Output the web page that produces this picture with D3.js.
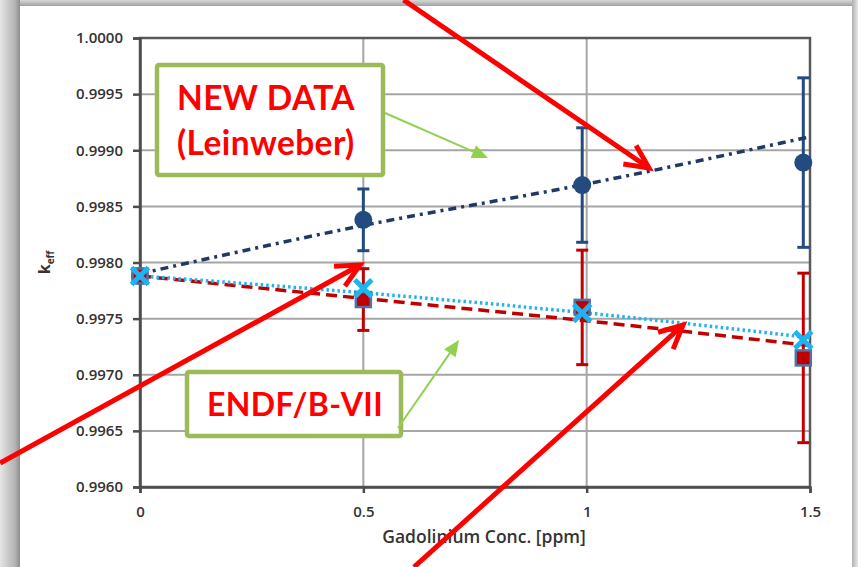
<!DOCTYPE html>
<html>
<head>
<meta charset="utf-8">
<script src="https://cdn.jsdelivr.net/npm/d3@7"></script>
<style>
  html, body { margin: 0; padding: 0; background: #fff; }
  svg { display: block; }
</style>
</head>
<body>
<svg id="chart" width="858" height="567"></svg>
<script>
// Gadolinium concentration in ppm at each measured point
const concentration = [0, 0.5, 0.99, 1.485];
// k_eff with the new Gd cross sections (Leinweber)
const keffNewData = [0.99788, 0.99838, 0.99869, 0.99889];
// k_eff with ENDF/B-VII cross sections
const keffEndf = [0.99788, 0.99767, 0.99760, 0.99715];
// second ENDF/B-VII calculation
const keffEndfCalc = [0.99788, 0.99777, 0.99755, 0.99731];
// one-sigma uncertainty of each point
const keffSigma = [0, 0.000275, 0.00051, 0.000755];

// trend lines through each series
const trendConc = [0, 0.5, 1, 1.5];
const trendNewData = [0.99790, 0.99833, 0.99870, 0.99912];
const trendEndf = [0.99788, 0.99768, 0.99748, 0.99726];
const trendEndfCalc = [0.99788, 0.99773, 0.99755, 0.99733];

// axis ticks
const xTicks = [0, 0.5, 1, 1.5];
const yTicks = [0.9960, 0.9965, 0.9970, 0.9975, 0.9980, 0.9985, 0.9990, 0.9995, 1.0000];

const svg = d3.select("#chart");
const W = 858, H = 567;

// ---- card background with soft grey edges ----
const defs = svg.append("defs");
const gl = defs.append("linearGradient").attr("id", "edgeL").attr("x1", 0).attr("x2", 1);
gl.append("stop").attr("offset", 0).attr("stop-color", "#e4e4e4");
gl.append("stop").attr("offset", 0.75).attr("stop-color", "#b4b4b4");
gl.append("stop").attr("offset", 1).attr("stop-color", "#8c8c8c");
const gr = defs.append("linearGradient").attr("id", "edgeR").attr("x1", 0).attr("x2", 1);
gr.append("stop").attr("offset", 0).attr("stop-color", "#b0b0b0");
gr.append("stop").attr("offset", 1).attr("stop-color", "#e8e8e8");
const gt = defs.append("linearGradient").attr("id", "edgeT").attr("x1", 0).attr("x2", 0).attr("y1", 0).attr("y2", 1);
gt.append("stop").attr("offset", 0).attr("stop-color", "#d8d8d8");
gt.append("stop").attr("offset", 1).attr("stop-color", "#a0a0a0");

svg.append("rect").attr("x", 0).attr("y", 0).attr("width", W).attr("height", H).attr("fill", "#fff");
svg.append("rect").attr("x", 0).attr("y", 0).attr("width", W).attr("height", 6).attr("fill", "url(#edgeT)");
svg.append("rect").attr("x", 0).attr("y", 0).attr("width", 20).attr("height", H).attr("fill", "url(#edgeL)");
svg.append("rect").attr("x", 852).attr("y", 0).attr("width", 6).attr("height", H).attr("fill", "url(#edgeR)");

// ---- scales ----
const x = d3.scaleLinear().domain([0, 1.5]).range([140, 810]);
const y = d3.scaleLinear().domain([0.9960, 1.0000]).range([487, 38]);

// ---- grid ----
const grid = svg.append("g");
grid.selectAll("line.h").data(yTicks).join("line")
  .attr("x1", x(0)).attr("x2", x(1.5))
  .attr("y1", d => y(d)).attr("y2", d => y(d))
  .attr("stroke", "#a6a6a6").attr("stroke-width", 2);
grid.selectAll("line.v").data(xTicks).join("line")
  .attr("x1", d => x(d)).attr("x2", d => x(d))
  .attr("y1", y(0.996)).attr("y2", y(1.0))
  .attr("stroke", "#a6a6a6").attr("stroke-width", 2);

// plot frame
svg.append("rect")
  .attr("x", x(0)).attr("y", y(1.0))
  .attr("width", x(1.5) - x(0)).attr("height", y(0.996) - y(1.0))
  .attr("fill", "none").attr("stroke", "#595959").attr("stroke-width", 2.5);

// ---- axes ----
const yAxis = d3.axisLeft(y).tickValues(yTicks).tickFormat(d3.format(".4f")).tickSize(7).tickPadding(10);
const gy = svg.append("g").attr("transform", `translate(${x(0)},0)`).call(yAxis);
const xAxis = d3.axisBottom(x).tickValues(xTicks).tickFormat(d => d3.format("")(d)).tickSize(6).tickPadding(13);
const gx = svg.append("g").attr("transform", `translate(0,${y(0.996)})`).call(xAxis);
[gx, gy].forEach(g => {
  g.select(".domain").attr("stroke", "#4d4d4d").attr("stroke-width", 2.5);
  g.selectAll(".tick line").attr("stroke", "#4d4d4d").attr("stroke-width", 2.5);
  g.selectAll(".tick text")
    .attr("fill", "#333").attr("font-family", "'Open Sans', sans-serif")
    .attr("font-weight", 600).attr("font-size", 15);
});

// axis titles
svg.append("text")
  .attr("x", x(0.75) + 9).attr("y", 543)
  .attr("text-anchor", "middle")
  .attr("font-family", "'Open Sans', sans-serif").attr("font-weight", 600)
  .attr("font-size", 17.5).attr("fill", "#333")
  .text("Gadolinium Conc. [ppm]");
const yt = svg.append("text")
  .attr("transform", `translate(50,${y(0.998)}) rotate(-90)`)
  .attr("text-anchor", "middle")
  .attr("font-family", "'Open Sans', sans-serif").attr("font-weight", 700)
  .attr("font-size", 16).attr("fill", "#333");
yt.append("tspan").text("k");
yt.append("tspan").attr("font-size", 10).attr("dy", 4).text("eff");

// ---- error bars ----
function errorBars(values, color) {
  const g = svg.append("g");
  const pts = concentration.map((c, i) => ({ c, v: values[i], s: keffSigma[i] })).filter(d => d.s > 0);
  g.selectAll("line.bar").data(pts).join("line")
    .attr("x1", d => x(d.c)).attr("x2", d => x(d.c))
    .attr("y1", d => y(d.v + d.s)).attr("y2", d => y(d.v - d.s))
    .attr("stroke", color).attr("stroke-width", 3);
  ["top", "bottom"].forEach(side => {
    g.selectAll("line." + side).data(pts).join("line")
      .attr("x1", d => x(d.c) - 6).attr("x2", d => x(d.c) + 6)
      .attr("y1", d => y(side === "top" ? d.v + d.s : d.v - d.s))
      .attr("y2", d => y(side === "top" ? d.v + d.s : d.v - d.s))
      .attr("stroke", color).attr("stroke-width", 3);
  });
}
errorBars(keffNewData, "#234b80");
errorBars(keffEndf, "#c00000");

// ---- trend lines ----
const line = d3.line().x(d => x(d[0])).y(d => y(d[1])).curve(d3.curveMonotoneX);
svg.append("path").datum(d3.zip(trendConc, trendNewData))
  .attr("d", line).attr("fill", "none")
  .attr("stroke", "#1f3864").attr("stroke-width", 3.5)
  .attr("stroke-dasharray", "8,5,3,5");
svg.append("path").datum(d3.zip(trendConc, trendEndf))
  .attr("d", line).attr("fill", "none")
  .attr("stroke", "#c00000").attr("stroke-width", 3.5)
  .attr("stroke-dasharray", "11,6");
svg.append("path").datum(d3.zip(trendConc, trendEndfCalc))
  .attr("d", line).attr("fill", "none")
  .attr("stroke", "#1fb4f0").attr("stroke-width", 3.5)
  .attr("stroke-dasharray", "2.5,3");

// ---- markers ----
svg.append("g").selectAll("circle").data(d3.zip(concentration, keffNewData)).join("circle")
  .attr("cx", d => x(d[0])).attr("cy", d => y(d[1])).attr("r", 9)
  .attr("fill", "#234b80");
svg.append("g").selectAll("rect").data(d3.zip(concentration, keffEndf)).join("rect")
  .attr("x", d => x(d[0]) - 7.5).attr("y", d => y(d[1]) - 7.5)
  .attr("width", 15).attr("height", 15)
  .attr("fill", "#c00000").attr("stroke", "#4f72a8").attr("stroke-width", 2.5);
const cross = svg.append("g");
d3.zip(concentration, keffEndfCalc).forEach(d => {
  const cx = x(d[0]), cy = y(d[1]), r = 8.5;
  cross.append("path")
    .attr("d", `M${cx - r},${cy - r}L${cx + r},${cy + r}M${cx - r},${cy + r}L${cx + r},${cy - r}`)
    .attr("stroke", "#1fb4f0").attr("stroke-width", 5).attr("fill", "none");
});

// ---- callout boxes ----
function callout(x0, y0, w, h, lines, size, lineGap, textX) {
  svg.append("rect").attr("x", x0 + 10).attr("y", y0 + h - 1).attr("width", w - 60).attr("height", 3)
    .attr("fill", "#777").attr("opacity", 0.6);
  svg.append("rect").attr("x", x0).attr("y", y0).attr("width", w).attr("height", h)
    .attr("rx", 2).attr("fill", "#fff").attr("stroke", "#9bbb59").attr("stroke-width", 4.5);
  const cy = y0 + h / 2 - (lines.length - 1) * lineGap / 2;
  lines.forEach((t, i) => {
    svg.append("text")
      .attr("x", textX == null ? x0 + w / 2 + 1 : textX).attr("y", cy + i * lineGap)
      .attr("dy", "0.36em").attr("text-anchor", textX == null ? "middle" : "start")
      .attr("font-family", "Lato, 'Open Sans', sans-serif").attr("font-weight", 700)
      .attr("font-size", size).attr("fill", "#ff0000")
      .attr("letter-spacing", 0.4)
      .text(t);
  });
}
callout(157, 65, 226, 110, ["NEW DATA", "(Leinweber)"], 33.5, 45, 177);
callout(187, 372, 214, 64, ["ENDF/B-VII"], 32, 0, null);

// thin green pointers from the callouts
function greenArrow(x1, y1, x2, y2) {
  const a = Math.atan2(y2 - y1, x2 - x1), L = 16, hw = 7;
  const bx = x2 - L * Math.cos(a), by = y2 - L * Math.sin(a);
  svg.append("line").attr("x1", x1).attr("y1", y1).attr("x2", bx).attr("y2", by)
    .attr("stroke", "#92d050").attr("stroke-width", 2);
  svg.append("path")
    .attr("d", `M${x2},${y2}L${bx - hw * Math.sin(a)},${by + hw * Math.cos(a)}L${bx + hw * Math.sin(a)},${by - hw * Math.cos(a)}Z`)
    .attr("fill", "#92d050");
}
greenArrow(385, 113, 488, 158);
greenArrow(398, 428, 459, 340);

// thick red pointers, placed in chart coordinates
function redArrow(c1, k1, c2, k2) {
  const x1 = x(c1), y1 = y(k1), x2 = x(c2), y2 = y(k2);
  const a = Math.atan2(y2 - y1, x2 - x1), L = 26, spread = 0.45;
  svg.append("line").attr("x1", x1).attr("y1", y1).attr("x2", x2).attr("y2", y2)
    .attr("stroke", "#ff0000").attr("stroke-width", 5);
  svg.append("path")
    .attr("d", `M${x2 - L * Math.cos(a - spread)},${y2 - L * Math.sin(a - spread)}L${x2},${y2}L${x2 - L * Math.cos(a + spread)},${y2 - L * Math.sin(a + spread)}`)
    .attr("stroke", "#ff0000").attr("stroke-width", 5).attr("fill", "none")
    .attr("stroke-linejoin", "miter");
}
redArrow(0.59, 1.000339, 1.1396, 0.998842);
redArrow(-0.313, 0.996214, 0.4925, 0.997978);
redArrow(0.6134, 0.995287, 1.2157, 0.997443);
</script>
</body>
</html>
